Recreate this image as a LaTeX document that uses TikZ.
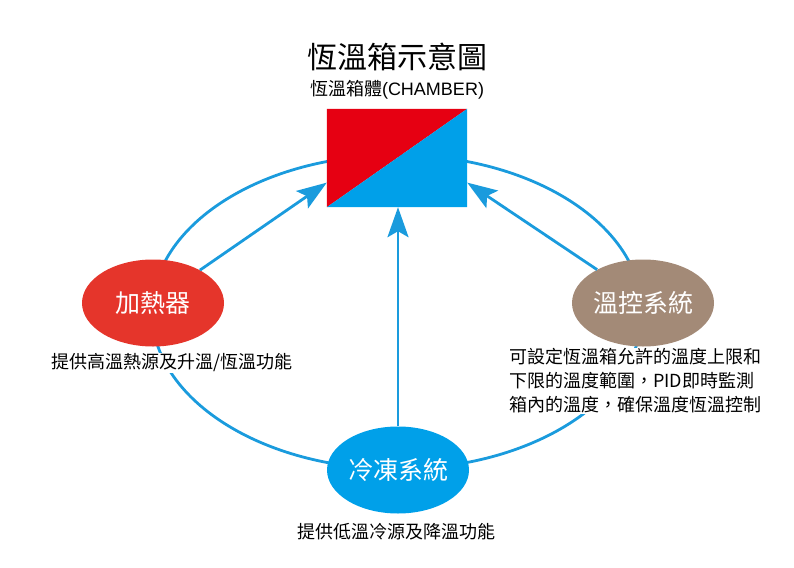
\documentclass[tikz,border=0pt]{standalone}
\usepackage{fontspec}
\newfontfamily\cjk{Noto Sans CJK TC}
\newfontfamily\lat{Liberation Sans}
\usetikzlibrary{arrows.meta,shapes.geometric,calc}
\definecolor{boxred}{HTML}{E60012}
\definecolor{boxblue}{HTML}{00A0E9}
\definecolor{heatred}{HTML}{E5352B}
\definecolor{ctrlbrown}{HTML}{A38A77}
\definecolor{linkblue}{HTML}{1A9BDD}
\begin{document}
\begin{tikzpicture}[>={Stealth[length=30pt,width=21pt,inset=6pt]},x=1pt,y=-1pt,
	unit/.style={ellipse,minimum width=142pt,minimum height=87pt,inner sep=0pt,text=white,font=\cjk\fontsize{25}{30}\selectfont},
	note/.style={fill=white,inner sep=1pt,font=\cjk\fontsize{18}{24}\selectfont},
	link/.style={linkblue,line width=2.8pt}]
	\useasboundingbox (0,0) rectangle (794,567);
	\def\cx{397} % center of the loop
	\def\cy{312}
	\draw[link] (\cx,\cy) ellipse [x radius=245, y radius=157];
	\node[font=\cjk\fontsize{30}{36}\selectfont] (title) at (397,57) {恆溫箱示意圖};
	\node[font=\cjk\fontsize{18}{22}\selectfont] (sub) at (397,90) {恆溫箱體{\lat(CHAMBER)}};
	\node[minimum width=140pt,minimum height=98pt,inner sep=0pt] (box) at (397,158) {};
	\fill[boxred] (box.north west) -- (box.north east) -- (box.south west) -- cycle;
	\fill[boxblue] (box.north east) -- (box.south east) -- (box.south west) -- cycle;
	\node[unit,fill=heatred] (heat) at (153,303) {加熱器};
	\node[unit,fill=ctrlbrown] (ctrl) at (643,303) {溫控系統};
	\node[unit,fill=boxblue] (cold) at (398,470) {冷凍系統};
	\node[note] (heatnote) at (172,363) {提供高溫熱源及升溫/恆溫功能};
	\node[note,align=left] (ctrlnote) at (635,381) {可設定恆溫箱允許的溫度上限和\\下限的溫度範圍，PID即時監測\\箱內的溫度，確保溫度恆溫控制};
	\node[note] (coldnote) at (396,532) {提供低溫冷源及降溫功能};
	\draw[link,->] (heat.35) -- ($(box.west)!.5!(box.south west)$);
	\draw[link,->] (ctrl.144) -- ($(box.east)!.5!(box.south east)$);
	\draw[link,->] (cold) -- (cold |- box.south);
\end{tikzpicture}
\end{document}
